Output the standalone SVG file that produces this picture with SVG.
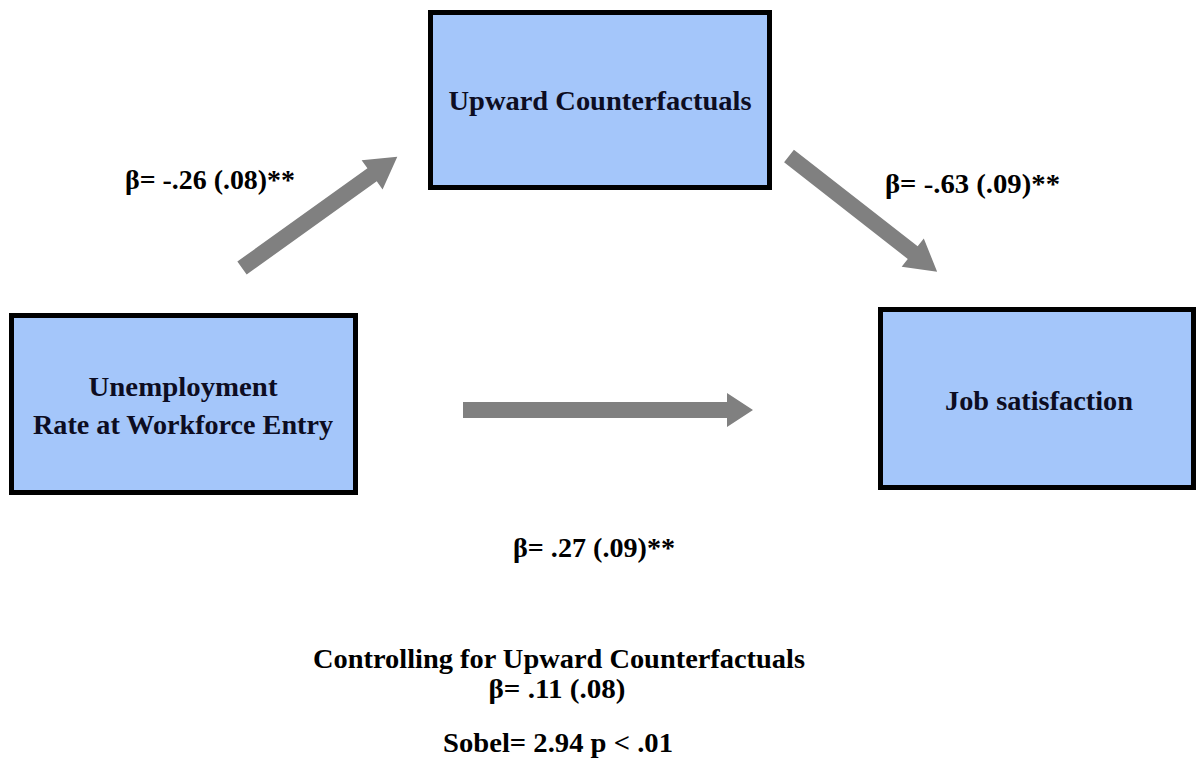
<svg xmlns="http://www.w3.org/2000/svg" width="1196" height="777" viewBox="0 0 1196 777">
<style>
.box{fill:#a4c6fa;stroke:#000;stroke-width:5}
.nt{font-family:"Liberation Serif","Times New Roman",serif;font-weight:bold;font-size:28px;fill:#0d0d22;text-anchor:middle}
.lb{font-family:"Liberation Serif","Times New Roman",serif;font-weight:bold;font-size:28px;fill:#000}
.ct{font-family:"Liberation Serif","Times New Roman",serif;font-weight:bold;font-size:28px;fill:#000;text-anchor:middle}
.arr{fill:#808080}
</style>
<rect width="1196" height="777" fill="#fff"/>
<g id="connectors">
<polygon class="arr" points="463,402 727,402 727,393 753,410 727,427 727,418 463,418"/>
<g transform="translate(242,268) rotate(-35.6)">
<polygon class="arr" points="0,-8 160,-8 160,-18 191,0 160,18 160,8 0,8"/>
</g>
<g transform="translate(789,156) rotate(38)">
<polygon class="arr" points="0,-8 157,-8 157,-18 188,0 157,18 157,8 0,8"/>
</g>
</g>
<g id="node-upward">
<rect class="box" x="430.5" y="12.5" width="339" height="175"/>
<text class="nt" x="600" y="110" textLength="303" lengthAdjust="spacingAndGlyphs">Upward Counterfactuals</text>
</g>
<g id="node-unemployment">
<rect class="box" x="11.5" y="315.5" width="344" height="177"/>
<text class="nt" x="183" y="396" textLength="189" lengthAdjust="spacingAndGlyphs">Unemployment</text>
<text class="nt" x="183" y="434" textLength="300" lengthAdjust="spacingAndGlyphs">Rate at Workforce Entry</text>
</g>
<g id="node-job">
<rect class="box" x="880.5" y="309.5" width="313" height="178"/>
<text class="nt" x="1039" y="410" textLength="188" lengthAdjust="spacingAndGlyphs">Job satisfaction</text>
</g>
<g id="labels">
<text class="lb" x="125" y="189" textLength="170" lengthAdjust="spacingAndGlyphs">β= -.26 (.08)**</text>
<text class="lb" x="885" y="193" textLength="175" lengthAdjust="spacingAndGlyphs">β= -.63 (.09)**</text>
<text class="lb" x="513" y="557" textLength="162" lengthAdjust="spacingAndGlyphs">β= .27 (.09)**</text>
<text class="ct" x="559" y="668" textLength="492" lengthAdjust="spacingAndGlyphs">Controlling for Upward Counterfactuals</text>
<text class="ct" x="557" y="698" textLength="137" lengthAdjust="spacingAndGlyphs">β= .11 (.08)</text>
<text class="ct" x="558" y="752" textLength="230" lengthAdjust="spacingAndGlyphs">Sobel= 2.94 p &lt; .01</text>
</g>
</svg>
